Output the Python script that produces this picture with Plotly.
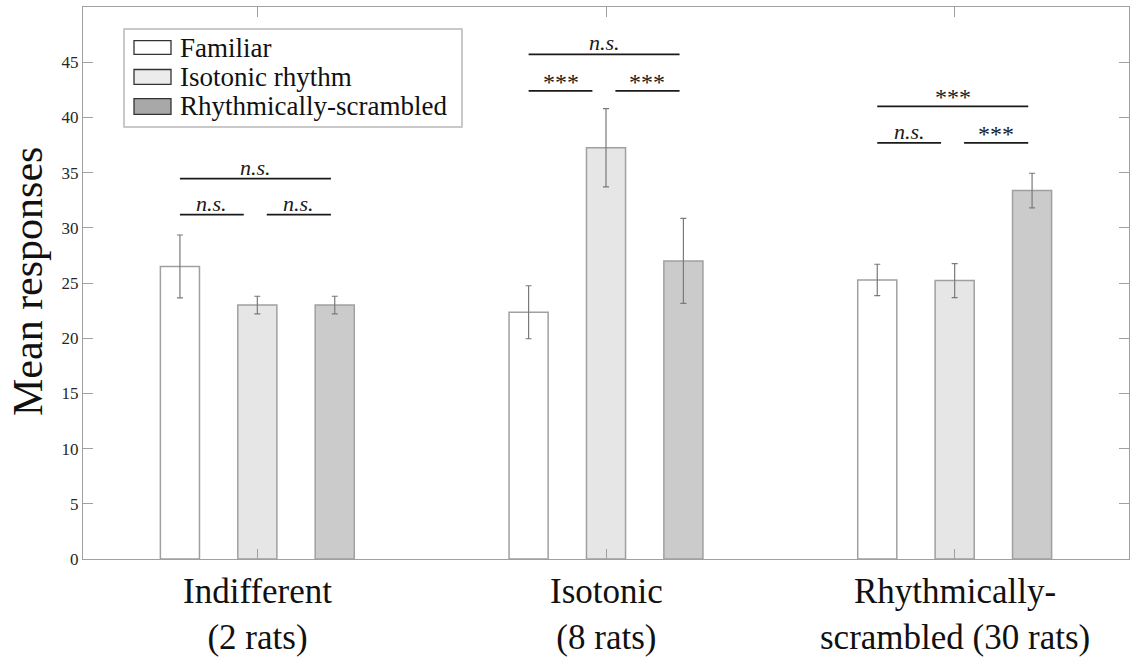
import plotly.graph_objects as go

# ---------------- data ----------------
group_labels = ["Indifferent<br>(2 rats)",
                "Isotonic<br>(8 rats)",
                "Rhythmically-<br>scrambled (30 rats)"]
group_pos = [1, 2, 3]
series_names = ["Familiar", "Isotonic rhythm", "Rhythmically-scrambled"]
familiar = [26.5, 22.35, 25.28]
familiar_err = [2.85, 2.4, 1.42]
isotonic = [23.0, 37.25, 25.22]
isotonic_err = [0.8, 3.55, 1.54]
scrambled = [23.0, 27.0, 33.37]
scrambled_err = [0.8, 3.85, 1.57]
y_ticks = [0, 5, 10, 15, 20, 25, 30, 35, 40, 45]

# significance brackets: (group index, x-offset start, x-offset end, y, label)
brackets = [
    (0, -0.222, 0.211, 34.45, "n.s."), (0, -0.222, -0.039, 31.2, "n.s."), (0, 0.027, 0.211, 31.2, "n.s."),
    (1, -0.222, 0.211, 45.7, "n.s."), (1, -0.222, -0.039, 42.4, "***"), (1, 0.027, 0.211, 42.4, "***"),
    (2, -0.222, 0.211, 41.0, "***"), (2, -0.222, -0.039, 37.7, "n.s."), (2, 0.027, 0.211, 37.7, "***"),
]

# ---------------- style ----------------
FONT = "Liberation Serif"
fills = ["#ffffff", "#e6e6e6", "#cbcbcb"]
legend_fills = ["#ffffff", "#ececec", "#a8a8a8"]
edge = "#a0a0a0"
W, H = 1131, 665
L, R, T, B = 83, 1129, 7, 559  # plot area pixels

def px_x(p):
    return (p - L) / (R - L)

def px_y(p):
    return (B - p) / (B - T)

fig = go.Figure()
for name, vals, errs, col in zip(series_names, [familiar, isotonic, scrambled],
                                 [familiar_err, isotonic_err, scrambled_err], fills):
    fig.add_trace(go.Bar(
        x=group_pos, y=vals, name=name,
        marker=dict(color=col, line=dict(color=edge, width=1.5)),
        error_y=dict(type="data", array=errs, visible=True, color="#7a7a7a", thickness=1.2, width=3),
        showlegend=False, hoverinfo="skip",
    ))

shapes = []
annotations = []

# significance brackets
for g, a, b, yv, lab in brackets:
    xc = group_pos[g]
    shapes.append(dict(type="line", xref="x", yref="y", x0=xc + a, x1=xc + b, y0=yv, y1=yv,
                       line=dict(color="#1a1a1a", width=1.8)))
    italic = lab == "n.s."
    annotations.append(dict(xref="x", yref="y", x=xc + (a + b) / 2, y=yv,
                            text=f"<i>{lab}</i>" if italic else lab, showarrow=False,
                            yanchor="bottom", yshift=-3 if italic else -6,
                            font=dict(family=FONT, size=22 if italic else 24, color="#1a1a1a")))

# category labels (two lines each)
for xc, lab in zip(group_pos, group_labels):
    annotations.append(dict(xref="x", yref="paper", x=xc, y=px_y(570),
                            text=lab, showarrow=False, yanchor="top",
                            font=dict(family=FONT, size=35, color="#111111")))

# y axis title
annotations.append(dict(xref="paper", yref="paper", x=px_x(28), y=px_y(282), text="Mean responses",
                        textangle=-90, showarrow=False, xanchor="center", yanchor="middle",
                        font=dict(family=FONT, size=42, color="#111111")))

# custom legend
shapes.append(dict(type="rect", xref="paper", yref="paper", x0=px_x(124), x1=px_x(462),
                   y0=px_y(127), y1=px_y(29), line=dict(color="#b8b8b8", width=1.5),
                   fillcolor="white", layer="above"))
sw_y = [(40.7, 54.3), (69.5, 84.3), (98.7, 114.3)]
for name, col, (ya, yb) in zip(series_names, legend_fills, sw_y):
    shapes.append(dict(type="rect", xref="paper", yref="paper", x0=px_x(134), x1=px_x(171),
                       y0=px_y(yb), y1=px_y(ya), line=dict(color="#333333", width=1.3),
                       fillcolor=col, layer="above"))
    annotations.append(dict(xref="paper", yref="paper", x=px_x(178), y=px_y((ya + yb) / 2),
                            text=name, showarrow=False, xanchor="left", yanchor="middle",
                            font=dict(family=FONT, size=27, color="#111111")))

fig.update_layout(
    width=W, height=H,
    margin=dict(l=L, r=W - R, t=T, b=H - B),
    paper_bgcolor="white", plot_bgcolor="white",
    barmode="group", bargap=0.334, bargroupgap=0.495,
    shapes=shapes, annotations=annotations,
    showlegend=False, hovermode=False,
)
fig.update_xaxes(range=[0.5, 3.5], tickvals=group_pos, showticklabels=False,
                 ticks="inside", ticklen=10, tickcolor="#a0a0a0",
                 showline=True, linecolor="#a0a0a0", linewidth=1, mirror="ticks",
                 showgrid=False, zeroline=False)
fig.update_yaxes(range=[0, 50], tickvals=y_ticks, ticks="inside", ticklen=10, tickcolor="#a0a0a0",
                 showline=True, linecolor="#a0a0a0", linewidth=1, mirror="ticks",
                 showgrid=False, zeroline=False,
                 tickfont=dict(family=FONT, size=17, color="#262626"))

fig.write_html("out.html", config={"displayModeBar": False},
               post_script="document.body.style.margin='0px';")
